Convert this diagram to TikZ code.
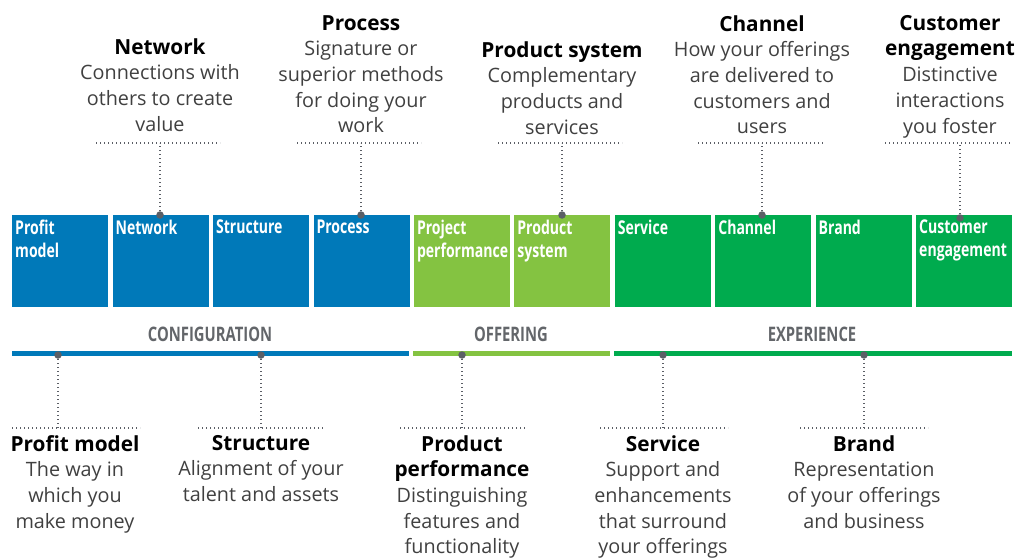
\documentclass[tikz,border=0pt]{standalone}
\usepackage{fontspec}
\setmainfont{Open Sans}
\newfontfamily\condfont[FakeStretch=0.74]{Open Sans}
\usetikzlibrary{calc}
\definecolor{cblue}{HTML}{0079B9}
\definecolor{clgreen}{HTML}{84C341}
\definecolor{cgreen}{HTML}{00AB4E}
\definecolor{catgray}{HTML}{63666A}
\definecolor{dotgray}{HTML}{5B5F66}
\definecolor{desccol}{HTML}{404040}
\newcommand\calltitle[1]{\textcolor{black}{\fontsize{20.8}{25.7}\selectfont\textbf{#1}}}
\begin{document}
\begin{tikzpicture}[x=1pt,y=-1pt,
  box/.style={draw=none, minimum width=96pt, minimum height=92pt, inner sep=0, anchor=north west},
  boxlbl/.style={anchor=north west, inner sep=0, align=left, text=white, font=\condfont\bfseries\fontsize{19}{23}\selectfont},
  cat/.style={inner sep=0, text=catgray, font=\condfont\bfseries\fontsize{20}{22}\selectfont},
  bar/.style={draw=none, minimum height=5pt, inner sep=0, anchor=west},
  call/.style={align=center, inner sep=0, anchor=north, text=desccol, font=\fontsize{19.8}{25.7}\selectfont},
  dotline/.style={draw=dotgray, line width=1.3pt, dash pattern=on 1.3pt off 2.7pt},
  pin/.style={circle, fill=dotgray, minimum size=7.5pt, inner sep=0}]
\useasboundingbox (0,0) rectangle (1018,559);

% boxes
\node[box, fill=cblue]   (b1)  at (12,215)    {};
\node[box, fill=cblue]   (b2)  at (112.4,215) {};
\node[box, fill=cblue]   (b3)  at (212.9,215) {};
\node[box, fill=cblue]   (b4)  at (313.3,215) {};
\node[box, fill=clgreen] (b5)  at (413.8,215) {};
\node[box, fill=clgreen] (b6)  at (514.2,215) {};
\node[box, fill=cgreen]  (b7)  at (614.6,215) {};
\node[box, fill=cgreen]  (b8)  at (715.1,215) {};
\node[box, fill=cgreen]  (b9)  at (815.5,215) {};
\node[box, fill=cgreen]  (b10) at (916,215)   {};

\node[boxlbl] (l1)  at ([xshift=3pt,yshift=-5pt]b1.north west)  {Profit\\model};
\node[boxlbl] (l2)  at ([xshift=3pt,yshift=-5pt]b2.north west)  {Network};
\node[boxlbl] (l3)  at ([xshift=3pt,yshift=-5pt]b3.north west)  {Structure};
\node[boxlbl] (l4)  at ([xshift=3pt,yshift=-5pt]b4.north west)  {Process};
\node[boxlbl] (l5)  at ([xshift=3pt,yshift=-5pt]b5.north west)  {Project\\performance};
\node[boxlbl] (l6)  at ([xshift=3pt,yshift=-5pt]b6.north west)  {Product\\system};
\node[boxlbl] (l7)  at ([xshift=3pt,yshift=-5pt]b7.north west)  {Service};
\node[boxlbl] (l8)  at ([xshift=3pt,yshift=-5pt]b8.north west)  {Channel};
\node[boxlbl] (l9)  at ([xshift=3pt,yshift=-5pt]b9.north west)  {Brand};
\node[boxlbl] (l10) at ([xshift=3pt,yshift=-5pt]b10.north west) {Customer\\engagement};

% categories
\node[cat] (c1) at (210,334) {CONFIGURATION};
\node[cat] (c2) at (511,334) {OFFERING};
\node[cat] (c3) at (812,334) {EXPERIENCE};
\node[bar, fill=cblue,   minimum width=397pt] (bar1) at (12,353)  {};
\node[bar, fill=clgreen, minimum width=197pt] (bar2) at (413,353) {};
\node[bar, fill=cgreen,  minimum width=398pt] (bar3) at (614,353) {};

% top callouts
\node[call] (t1) at (160,38) {\calltitle{Network}\\Connections with\\others to create\\value};
\node[call] (t2) at (361,15) {\calltitle{Process}\\Signature or\\superior methods\\for doing your\\work};
\node[call] (t3) at (562,41) {\calltitle{Product system}\\Complementary\\products and\\services};
\node[call] (t4) at (762,15) {\calltitle{Channel}\\How your offerings\\are delivered to\\customers and\\users};
\node[call] (t5) at (950,15) {\calltitle{Customer}\\\calltitle{engagement}\\Distinctive\\interactions\\you foster};

\coordinate (th1l) at (96,143);  \coordinate (th1r) at (220,143);
\coordinate (th2l) at (297,143); \coordinate (th2r) at (421,143);
\coordinate (th3l) at (498,143); \coordinate (th3r) at (622,143);
\coordinate (th4l) at (698,143); \coordinate (th4r) at (823,143);
\coordinate (th5l) at (885,143); \coordinate (th5r) at (1012,143);
\foreach \k in {1,...,5}{\draw[dotline] (th\k l) -- (th\k r);}

\coordinate (tp1) at (160,215);
\coordinate (tp2) at (361,215);
\coordinate (tp3) at (562,215);
\coordinate (tp4) at (762,215);
\coordinate (tp5) at (960,218);
\foreach \k in {1,...,5}{\draw[dotline] (tp\k) -- (tp\k |- th\k l);}
\foreach \k in {1,...,5}{\node[pin] (tpin\k) at (tp\k) {};}

% bottom callouts
\node[call] (u1) at (75,435)  {\calltitle{Profit model}\\The way in\\which you\\make money};
\node[call] (u2) at (261,435) {\calltitle{Structure}\\Alignment of your\\talent and assets};
\node[call] (u3) at (462,435) {\calltitle{Product}\\\calltitle{performance}\\Distinguishing\\features and\\functionality};
\node[call] (u4) at (663,435) {\calltitle{Service}\\Support and\\enhancements\\that surround\\your offerings};
\node[call] (u5) at (864,435) {\calltitle{Brand}\\Representation\\of your offerings\\and business};

\coordinate (bh1l) at (12,428);  \coordinate (bh1r) at (140,428);
\coordinate (bh2l) at (198,428); \coordinate (bh2r) at (325,428);
\coordinate (bh3l) at (400,428); \coordinate (bh3r) at (525,428);
\coordinate (bh4l) at (600,428); \coordinate (bh4r) at (728,428);
\coordinate (bh5l) at (800,428); \coordinate (bh5r) at (928,428);
\foreach \k in {1,...,5}{\draw[dotline] (bh\k l) -- (bh\k r);}

\coordinate (bp1) at (58,355);
\coordinate (bp2) at (261,355);
\coordinate (bp3) at (462,355);
\coordinate (bp4) at (663,355);
\coordinate (bp5) at (864,355);
\foreach \k in {1,...,5}{\draw[dotline] (bp\k) -- (bp\k |- bh\k l);}
\foreach \k in {1,...,5}{\node[pin] (bpin\k) at (bp\k) {};}
\end{tikzpicture}
\end{document}
